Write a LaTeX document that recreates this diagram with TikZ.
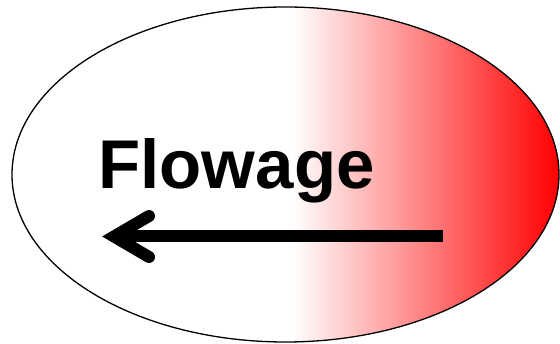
\documentclass[tikz,border=0pt]{standalone}
\usepackage{fontspec}
\setmainfont{Liberation Sans}
\usetikzlibrary{shapes.geometric,calc}
\pgfdeclarehorizontalshading{redfade}{100bp}{color(0bp)=(white); color(25bp)=(white); color(50.6bp)=(white); color(75bp)=(red); color(100bp)=(red)}
\tikzset{
  ovalbox/.style={ellipse, draw=black, line width=1.3pt, minimum width=547pt, minimum height=335pt, inner sep=0pt, outer sep=0pt, shading=redfade},
  titletext/.style={font=\bfseries\fontsize{69}{69}\selectfont, anchor=base, inner sep=0pt},
  shaft/.style={line width=12pt, line cap=butt},
  barb/.style={line width=12pt, line cap=round, line join=miter}
}
\begin{document}
\begin{tikzpicture}[x=1pt,y=-1pt]
\useasboundingbox (0,0) rectangle (560,344);
\node[ovalbox] (oval) at (285.5,174.5) {};
\node[titletext] (label) at (236.5,189) {Flowage};
\coordinate (tail) at (443,236.5);
\coordinate (tip) at (114,236.5);
\draw[shaft] (tail) -- (tip);
\draw[barb] ($(tip)+(35,-20.5)$) -- (tip) -- ($(tip)+(35,20.5)$);
\end{tikzpicture}
\end{document}
